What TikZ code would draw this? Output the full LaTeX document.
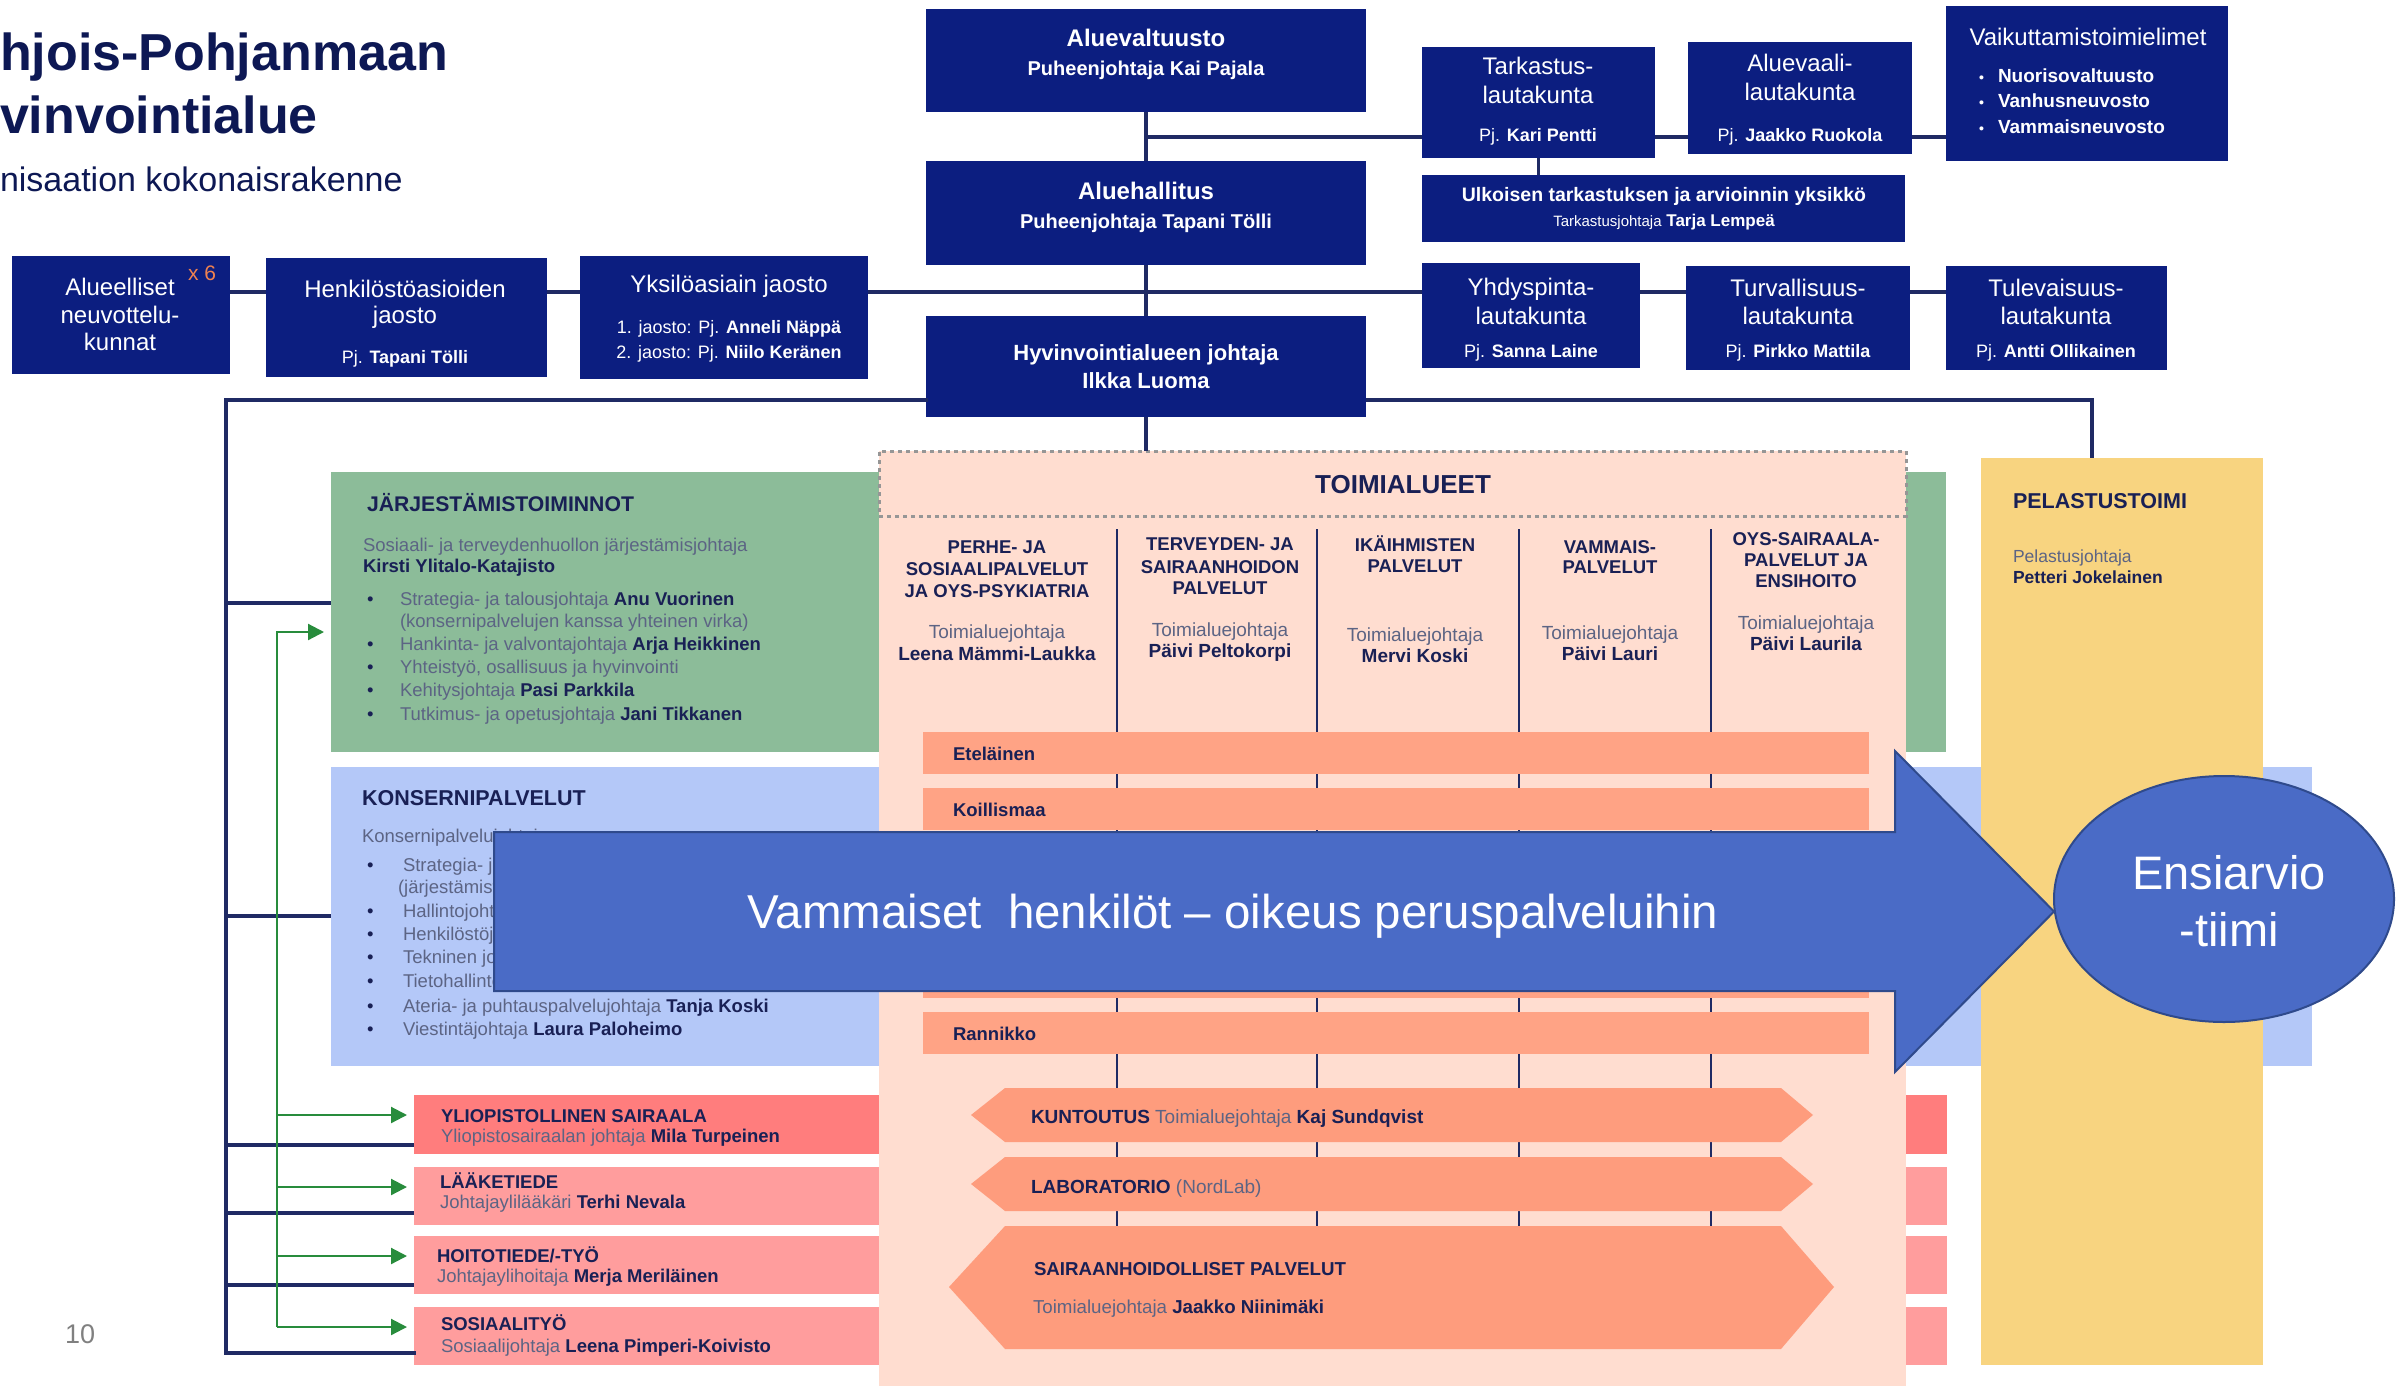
\documentclass[tikz,border=0pt]{standalone}
\usepackage{fontspec}
\setmainfont{Liberation Sans}
\usetikzlibrary{arrows.meta,calc,shapes.geometric}

\definecolor{navybox}{RGB}{12,30,128}
\definecolor{connc}{RGB}{31,42,100}
\definecolor{titlec}{RGB}{13,24,84}
\definecolor{ntext}{RGB}{25,32,85}
\definecolor{gtext}{RGB}{92,100,132}
\definecolor{greenbox}{RGB}{140,188,153}
\definecolor{bluebox}{RGB}{180,200,248}
\definecolor{redbox}{RGB}{255,125,125}
\definecolor{pinkbox}{RGB}{255,157,157}
\definecolor{peach}{RGB}{255,221,208}
\definecolor{barc}{RGB}{255,163,133}
\definecolor{hexc}{RGB}{254,156,125}
\definecolor{yellowbox}{RGB}{248,212,128}
\definecolor{arrowc}{RGB}{74,107,198}
\definecolor{arrowline}{RGB}{47,74,140}
\definecolor{orangec}{RGB}{240,130,80}
\definecolor{greenarr}{RGB}{40,140,60}
\definecolor{pagenum}{RGB}{128,128,128}
\definecolor{dotc}{RGB}{150,150,150}

\newcommand\fs[1]{\fontsize{#1}{#1}\selectfont}
\newcommand\gr[1]{\textcolor{gtext}{#1}}
\newcommand\bulA{\makebox[33pt][l]{•}}
\newcommand\bulB{\makebox[36pt][l]{•}}
\newcommand\bulV{\makebox[19pt][l]{\fs{14}•}}

\begin{document}
\begin{tikzpicture}[x=1pt,y=-1pt,
  every node/.style={inner sep=0pt,outer sep=0pt},
  nbox/.style={fill=navybox},
  wt/.style={text=white,anchor=base},
  nt/.style={text=ntext,anchor=base west},
  nc/.style={text=ntext,anchor=base},
  conn/.style={draw=connc,line width=3.5pt},
  gconn/.style={draw=greenarr,line width=2.2pt},
  garr/.style={gconn,-{Triangle[length=16pt,width=16pt]},shorten >=7pt},
  colline/.style={draw=connc,line width=2.5pt}]

\useasboundingbox (0,0) rectangle (2397,1386);
\fill[white] (0,0) rectangle (2397,1386);

% ---------- title ----------
\node[anchor=base west,text=titlec,font=\fs{52}\bfseries] (title1) at (0,71) {hjois-Pohjanmaan};
\node[anchor=base west,text=titlec,font=\fs{52}\bfseries] (title2) at (0,133) {vinvointialue};
\node[anchor=base west,text=titlec,font=\fs{34}] (subtitle) at (0,191) {nisaation kokonaisrakenne};
\node[anchor=base west,text=pagenum,font=\fs{27}] (pnum) at (65,1343) {10};

% ---------- colored bands ----------
\node[fill=greenbox,minimum width=1615pt,minimum height=280pt] (jarj) at (1138.5,612) {};
\node[fill=bluebox,minimum width=1981pt,minimum height=299pt] (konserni) at (1321.5,916.5) {};
\node[fill=redbox,minimum width=1533pt,minimum height=59pt] (yliop) at (1180.5,1124.5) {};
\node[fill=pinkbox,minimum width=1533pt,minimum height=58pt] (laake) at (1180.5,1196) {};
\node[fill=pinkbox,minimum width=1533pt,minimum height=58pt] (hoito) at (1180.5,1265) {};
\node[fill=pinkbox,minimum width=1533pt,minimum height=58pt] (sosiaali) at (1180.5,1336) {};

% green box text
\node[nt,font=\fs{21.2}\bfseries] (jarj-h) at (367,511) {JÄRJESTÄMISTOIMINNOT};
\node[nt,font=\fs{18.5}] (jarj-1) at (363,551) {\gr{Sosiaali- ja terveydenhuollon järjestämisjohtaja}};
\node[nt,font=\fs{18.5}\bfseries] (jarj-2) at (363,572) {Kirsti Ylitalo-Katajisto};
\node[nt,font=\fs{18.5}] (jarj-b1) at (367,605) {\bulA\gr{Strategia- ja talousjohtaja }\textbf{Anu Vuorinen}};
\node[nt,font=\fs{18.5}] (jarj-b1b) at (400,627) {\gr{(konsernipalvelujen kanssa yhteinen virka)}};
\node[nt,font=\fs{18.5}] (jarj-b2) at (367,650) {\bulA\gr{Hankinta- ja valvontajohtaja }\textbf{Arja Heikkinen}};
\node[nt,font=\fs{18.5}] (jarj-b3) at (367,673) {\bulA\gr{Yhteistyö, osallisuus ja hyvinvointi}};
\node[nt,font=\fs{18.5}] (jarj-b4) at (367,696) {\bulA\gr{Kehitysjohtaja }\textbf{Pasi Parkkila}};
\node[nt,font=\fs{18.5}] (jarj-b5) at (367,720) {\bulA\gr{Tutkimus- ja opetusjohtaja }\textbf{Jani Tikkanen}};

% blue box text
\node[nt,font=\fs{21.5}\bfseries] (kons-h) at (362,805) {KONSERNIPALVELUT};
\node[nt,font=\fs{18.5}] (kons-1) at (362,842) {\gr{Konsernipalvelujohtaja}};
\node[nt,font=\fs{18.5}] (kons-b1) at (367,871) {\bulB\gr{Strategia- ja talousjohtaja }\textbf{Anu Vuorinen}};
\node[nt,font=\fs{18.5}] (kons-b1b) at (398,893) {\gr{(järjestämistoimintojen kanssa yhteinen virka)}};
\node[nt,font=\fs{18.5}] (kons-b2) at (367,917) {\bulB\gr{Hallintojohtaja}};
\node[nt,font=\fs{18.5}] (kons-b3) at (367,940) {\bulB\gr{Henkilöstöjohtaja}};
\node[nt,font=\fs{18.5}] (kons-b4) at (367,963) {\bulB\gr{Tekninen johtaja}};
\node[nt,font=\fs{18.5}] (kons-b5) at (367,987) {\bulB\gr{Tietohallintojohtaja}};
\node[nt,font=\fs{18.5}] (kons-b6) at (367,1012) {\bulB\gr{Ateria- ja puhtauspalvelujohtaja }\textbf{Tanja Koski}};
\node[nt,font=\fs{18.5}] (kons-b7) at (367,1035) {\bulB\gr{Viestintäjohtaja }\textbf{Laura Paloheimo}};

% pink boxes text
\node[nt,font=\fs{18.5}\bfseries] (yliop-h) at (441,1122) {YLIOPISTOLLINEN SAIRAALA};
\node[nt,font=\fs{18.5}] (yliop-1) at (441,1142) {\gr{Yliopistosairaalan johtaja }\textbf{Mila Turpeinen}};
\node[nt,font=\fs{18.5}\bfseries] (laake-h) at (440,1188) {LÄÄKETIEDE};
\node[nt,font=\fs{18.5}] (laake-1) at (440,1208) {\gr{Johtajaylilääkäri }\textbf{Terhi Nevala}};
\node[nt,font=\fs{18.5}\bfseries] (hoito-h) at (437,1262) {HOITOTIEDE/-TYÖ};
\node[nt,font=\fs{18.5}] (hoito-1) at (437,1282) {\gr{Johtajaylihoitaja }\textbf{Merja Meriläinen}};
\node[nt,font=\fs{18.5}\bfseries] (sos-h) at (441,1330) {SOSIAALITYÖ};
\node[nt,font=\fs{18.5}] (sos-1) at (441,1352) {\gr{Sosiaalijohtaja }\textbf{Leena Pimperi-Koivisto}};

% ---------- TOIMIALUEET panel ----------
\node[fill=peach,minimum width=1027pt,minimum height=935pt] (toimi) at (1392.5,918.5) {};
\node[draw=dotc,line width=3pt,dash pattern=on 4pt off 4pt,minimum width=1027pt,minimum height=65pt] (toimihead) at (1392.5,483.5) {};
\node[nc,font=\fs{26}\bfseries] (toimi-t) at (1403,493) {TOIMIALUEET};

\foreach \cx in {1117,1317,1519,1711} \draw[colline] (\cx,529) -- (\cx,1226);

% column headers
\begin{scope}[every node/.append style={nc,font=\fs{18.5}\bfseries}]
\node (c1a) at (997,553) {PERHE- JA};
\node (c1b) at (997,575) {SOSIAALIPALVELUT};
\node (c1c) at (997,597) {JA OYS-PSYKIATRIA};
\node (c2a) at (1220,550) {TERVEYDEN- JA};
\node (c2b) at (1220,573) {SAIRAANHOIDON};
\node (c2c) at (1220,594) {PALVELUT};
\node (c3a) at (1415,551) {IKÄIHMISTEN};
\node (c3b) at (1415,572) {PALVELUT};
\node (c4a) at (1610,553) {VAMMAIS-};
\node (c4b) at (1610,573) {PALVELUT};
\node (c5a) at (1806,545) {OYS-SAIRAALA-};
\node (c5b) at (1806,566) {PALVELUT JA};
\node (c5c) at (1806,587) {ENSIHOITO};
\end{scope}
\begin{scope}[every node/.append style={nc,font=\fs{19}\bfseries}]
\node (c1n) at (997,660) {Leena Mämmi-Laukka};
\node (c2n) at (1220,657) {Päivi Peltokorpi};
\node (c3n) at (1415,662) {Mervi Koski};
\node (c4n) at (1610,660) {Päivi Lauri};
\node (c5n) at (1806,650) {Päivi Laurila};
\end{scope}
\begin{scope}[every node/.append style={nc,font=\fs{19}}]
\node (c1t) at (997,638) {\gr{Toimialuejohtaja}};
\node (c2t) at (1220,636) {\gr{Toimialuejohtaja}};
\node (c3t) at (1415,641) {\gr{Toimialuejohtaja}};
\node (c4t) at (1610,639) {\gr{Toimialuejohtaja}};
\node (c5t) at (1806,629) {\gr{Toimialuejohtaja}};
\end{scope}

% regional bars
\foreach \i/\cy in {1/753,2/809,3/865,4/921,5/977,6/1033}
  \node[fill=barc,minimum width=946pt,minimum height=42pt] (bar\i) at (1396,\cy) {};
\node[nt,font=\fs{18.5}\bfseries] (bar1-t) at (953,760) {Eteläinen};
\node[nt,font=\fs{18.5}\bfseries] (bar2-t) at (953,816) {Koillismaa};
\node[nt,font=\fs{18.5}\bfseries] (bar6-t) at (953,1040) {Rannikko};

% hexagon bands
\fill[hexc] (971,1115) -- (1005,1088) -- (1781,1088) -- (1813,1115) -- (1781,1142) -- (1005,1142) -- cycle;
\fill[hexc] (971,1184) -- (1005,1157) -- (1781,1157) -- (1813,1184) -- (1781,1211) -- (1005,1211) -- cycle;
\fill[hexc] (949,1287) -- (1005,1226) -- (1781,1226) -- (1834,1287) -- (1781,1349) -- (1005,1349) -- cycle;
\node[nt,font=\fs{19}] (kunt-t) at (1031,1123) {\textbf{KUNTOUTUS} \gr{Toimialuejohtaja} \textbf{Kaj Sundqvist}};
\node[nt,font=\fs{19}] (lab-t) at (1031,1193) {\textbf{LABORATORIO} \gr{(NordLab)}};
\node[nt,font=\fs{18.7}\bfseries] (sair-h) at (1034,1275) {SAIRAANHOIDOLLISET PALVELUT};
\node[nt,font=\fs{18.7}] (sair-1) at (1033,1313) {\gr{Toimialuejohtaja} \textbf{Jaakko Niinimäki}};

% ---------- Pelastustoimi ----------
\node[fill=yellowbox,minimum width=282pt,minimum height=907pt] (pelastus) at (2122,911.5) {};
\node[nt,font=\fs{21.5}\bfseries] (pel-h) at (2013,508) {PELASTUSTOIMI};
\node[nt,font=\fs{17.5}] (pel-1) at (2013,562) {\gr{Pelastusjohtaja}};
\node[nt,font=\fs{17.5}\bfseries] (pel-2) at (2013,583) {Petteri Jokelainen};

% ---------- top organs ----------
\node[nbox,minimum width=218pt,minimum height=118pt] (alueelliset) at (121,315) {};
\node[nbox,minimum width=281pt,minimum height=119pt] (henkilosto) at (406.5,317.5) {};
\node[nbox,minimum width=288pt,minimum height=123pt] (yksilo) at (724,317.5) {};
\node[nbox,minimum width=440pt,minimum height=103pt] (aluevaltuusto) at (1146,60.5) {};
\node[nbox,minimum width=440pt,minimum height=104pt] (aluehallitus) at (1146,213) {};
\node[nbox,minimum width=440pt,minimum height=101pt] (hyvinvointi) at (1146,366.5) {};
\node[nbox,minimum width=233pt,minimum height=111pt] (tarkastus) at (1538.5,102.5) {};
\node[nbox,minimum width=224pt,minimum height=112pt] (aluevaali) at (1800,98) {};
\node[nbox,minimum width=282pt,minimum height=155pt] (vaikuttamis) at (2087,83.5) {};
\node[nbox,minimum width=483pt,minimum height=67pt] (ulkoinen) at (1663.5,208.5) {};
\node[nbox,minimum width=218pt,minimum height=105pt] (yhdyspinta) at (1531,315.5) {};
\node[nbox,minimum width=224pt,minimum height=104pt] (turvallisuus) at (1798,318) {};
\node[nbox,minimum width=221pt,minimum height=104pt] (tulevaisuus) at (2056.5,318) {};

\node[wt,font=\fs{24}\bfseries] (av-1) at (1146,47) {Aluevaltuusto};
\node[wt,font=\fs{20}\bfseries] (av-2) at (1146,76) {Puheenjohtaja Kai Pajala};
\node[wt,font=\fs{24}\bfseries] (ah-1) at (1146,199) {Aluehallitus};
\node[wt,font=\fs{20}\bfseries] (ah-2) at (1146,228) {Puheenjohtaja Tapani Tölli};
\node[wt,font=\fs{22}\bfseries] (hj-1) at (1146,360) {Hyvinvointialueen johtaja};
\node[wt,font=\fs{22}\bfseries] (hj-2) at (1146,388) {Ilkka Luoma};

\node[wt,font=\fs{24}] (ta-1) at (1538,75) {Tarkastus-};
\node[wt,font=\fs{24}] (ta-2) at (1538,103) {lautakunta};
\node[wt,font=\fs{18}] (ta-3) at (1538,141) {Pj. \textbf{Kari Pentti}};
\node[wt,font=\fs{24}] (avl-1) at (1800,72) {Aluevaali-};
\node[wt,font=\fs{24}] (avl-2) at (1800,101) {lautakunta};
\node[wt,font=\fs{18}] (avl-3) at (1800,141) {Pj. \textbf{Jaakko Ruokola}};
\node[wt,font=\fs{24}] (vt-1) at (2088,46) {Vaikuttamistoimielimet};
\node[wt,anchor=base west,font=\fs{19}\bfseries] (vt-2) at (1979,83) {\bulV Nuorisovaltuusto};
\node[wt,anchor=base west,font=\fs{19}\bfseries] (vt-3) at (1979,108) {\bulV Vanhusneuvosto};
\node[wt,anchor=base west,font=\fs{19}\bfseries] (vt-4) at (1979,133) {\bulV Vammaisneuvosto};
\node[wt,font=\fs{19.5}\bfseries] (ul-1) at (1664,201) {Ulkoisen tarkastuksen ja arvioinnin yksikkö};
\node[wt,font=\fs{17}] (ul-2) at (1664,226) {{\fs{15}Tarkastusjohtaja} \textbf{Tarja Lempeä}};
\node[wt,font=\fs{24}] (yp-1) at (1531,295) {Yhdyspinta-};
\node[wt,font=\fs{24}] (yp-2) at (1531,324) {lautakunta};
\node[wt,font=\fs{18}] (yp-3) at (1531,357) {Pj. \textbf{Sanna Laine}};
\node[wt,font=\fs{24}] (tv-1) at (1798,296) {Turvallisuus-};
\node[wt,font=\fs{24}] (tv-2) at (1798,324) {lautakunta};
\node[wt,font=\fs{18}] (tv-3) at (1798,357) {Pj. \textbf{Pirkko Mattila}};
\node[wt,font=\fs{24}] (tl-1) at (2056,296) {Tulevaisuus-};
\node[wt,font=\fs{24}] (tl-2) at (2056,324) {lautakunta};
\node[wt,font=\fs{18}] (tl-3) at (2056,357) {Pj. \textbf{Antti Ollikainen}};

\node[wt,font=\fs{24}] (al-1) at (120,295) {Alueelliset};
\node[wt,font=\fs{24}] (al-2) at (120,323) {neuvottelu-};
\node[wt,font=\fs{24}] (al-3) at (120,350) {kunnat};
\node[anchor=base west,text=orangec,font=\fs{21}] (al-x) at (188,280) {x 6};
\node[wt,font=\fs{24}] (hk-1) at (405,297) {Henkilöstöasioiden};
\node[wt,font=\fs{24}] (hk-2) at (405,323) {jaosto};
\node[wt,font=\fs{18}] (hk-3) at (405,363) {Pj. \textbf{Tapani Tölli}};
\node[wt,font=\fs{24}] (yk-1) at (729,292) {Yksilöasiain jaosto};
\node[wt,font=\fs{18}] (yk-2) at (729,333) {1. jaosto: Pj. \textbf{Anneli Näppä}};
\node[wt,font=\fs{18}] (yk-3) at (729,358) {2. jaosto: Pj. \textbf{Niilo Keränen}};

% ---------- connectors ----------
\coordinate (y137) at (0,137);
\coordinate (y292) at (0,292);
\coordinate (lvtop) at (226,400);
\coordinate (lvbot) at (226,1353);
\coordinate (rv) at (2092,400);
\coordinate (yj) at (0,603);
\coordinate (yk) at (0,916);
\coordinate (yy1) at (0,1145);
\coordinate (yy2) at (0,1213);
\coordinate (yy3) at (0,1285);
\coordinate (gvtop) at (277,632);
\coordinate (gvbot) at (277,1327);
\coordinate (ga1) at (0,1115);
\coordinate (ga2) at (0,1187);
\coordinate (ga3) at (0,1256);

\draw[conn] (aluevaltuusto.south) -- (aluehallitus.north);
\draw[conn] (aluehallitus.south) -- (hyvinvointi.north);
\draw[conn] (aluevaltuusto.south |- y137) -- (tarkastus.west |- y137);
\draw[conn] (tarkastus.east |- y137) -- (aluevaali.west |- y137);
\draw[conn] (aluevaali.east |- y137) -- (vaikuttamis.west |- y137);
\draw[conn] (tarkastus.south) -- (tarkastus.south |- ulkoinen.north);
\draw[conn] (alueelliset.east |- y292) -- (henkilosto.west |- y292);
\draw[conn] (henkilosto.east |- y292) -- (yksilo.west |- y292);
\draw[conn] (yksilo.east |- y292) -- (yhdyspinta.west |- y292);
\draw[conn] (yhdyspinta.east |- y292) -- (turvallisuus.west |- y292);
\draw[conn] (turvallisuus.east |- y292) -- (tulevaisuus.west |- y292);
\draw[conn] (hyvinvointi.south) -- (hyvinvointi.south |- toimihead.north);
\draw[conn] (hyvinvointi.east |- rv) -- (rv) -- (rv |- pelastus.north);
\draw[conn,line cap=rect] (hyvinvointi.west |- lvtop) -- (lvtop) -- (lvbot) -- (sosiaali.west |- lvbot);
\draw[conn] (lvtop |- yj) -- (jarj.west |- yj);
\draw[conn] (lvtop |- yk) -- (konserni.west |- yk);
\draw[conn] (lvtop |- yy1) -- (yliop.west |- yy1);
\draw[conn] (lvtop |- yy2) -- (laake.west |- yy2);
\draw[conn] (lvtop |- yy3) -- (hoito.west |- yy3);

\draw[garr] (gvbot) -- (gvtop) -- (jarj.west |- gvtop);
\draw[garr] (gvtop |- ga1) -- (yliop.west |- ga1);
\draw[garr] (gvtop |- ga2) -- (laake.west |- ga2);
\draw[garr] (gvtop |- ga3) -- (hoito.west |- ga3);
\draw[garr] (gvbot) -- (sosiaali.west |- gvbot);

% ---------- big arrow and ellipse ----------
\filldraw[fill=arrowc,draw=arrowline,line width=2pt]
  (494,832) -- (1895,832) -- (1895,751) -- (2054,911.5) -- (1895,1072) -- (1895,991) -- (494,991) -- cycle;
\node[wt,font=\fs{47.5}] (arrow-t) at (1233,928) {Vammaiset~ henkilöt – oikeus peruspalveluihin};
\node[ellipse,fill=arrowc,draw=arrowline,line width=2pt,minimum width=340pt,minimum height=246pt] (ensi) at (2224,899) {};
\node[wt,font=\fs{47}] (ensi-1) at (2229,889) {Ensiarvio};
\node[wt,font=\fs{47}] (ensi-2) at (2229,946) {-tiimi};

\end{tikzpicture}
\end{document}
